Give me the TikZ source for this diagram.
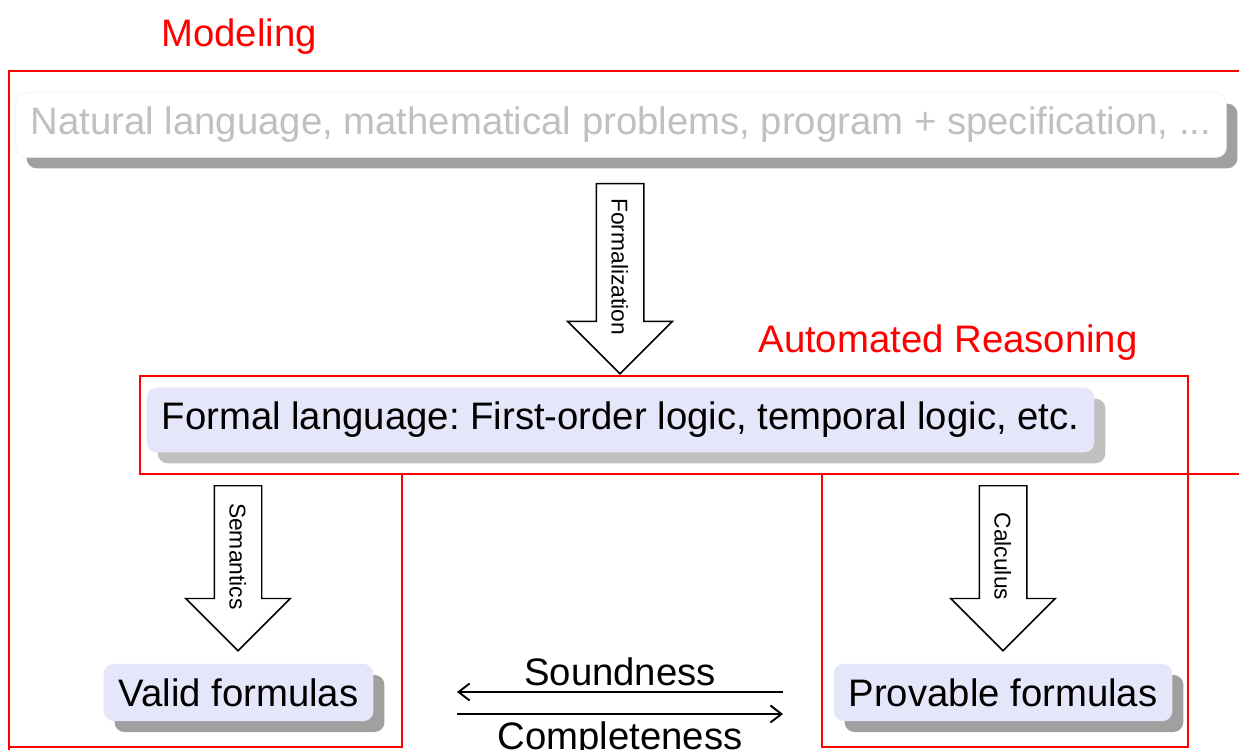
\documentclass[tikz,border=0pt]{standalone}
\usepackage{fontspec}
\setmainfont{Liberation Sans}
\usepackage{tikz}
\usetikzlibrary{arrows.meta,positioning,shapes.arrows,shadows}
\definecolor{regred}   {HTML}{FF0000}
\definecolor{termfill} {HTML}{E6E6FA}
\definecolor{shadedark}{HTML}{A0A0A0}
\definecolor{shadelite}{HTML}{C0C0C0}
\definecolor{fadetext} {HTML}{C0C0C0}
\newcommand{\bigfont}{\fontsize{21.8}{26}\selectfont}
\newcommand{\arrfont}{\fontsize{13}{15}\selectfont}
\frenchspacing
\tikzset{
  termbox/.style    ={fill=termfill, rounded corners=0.2cm,
                      inner xsep=0.3cm, inner ysep=0.29cm, font=\bigfont,
                      drop shadow={shadow xshift=0.22cm, shadow yshift=-0.22cm,
                                   fill=#1, opacity=1}},
  termbox/.default  =shadedark,
  regionbox/.style  ={draw=regred, line width=0.8pt},
  regionlabel/.style={text=regred, font=\bigfont, inner sep=0pt},
  arrowbox/.style   ={single arrow, draw=black, fill=white, line width=0.85pt,
                      rotate=-90, font=\arrfont,
                      text height=0.34cm, text depth=0cm, inner ysep=0.29cm,
                      single arrow head extend=0.57cm},
  relarr/.style     ={-{Straight Barb[length=2.2mm,width=3.4mm]}, line width=1.1pt},
}
\begin{document}
\begin{tikzpicture}[x=1cm,y=1cm]
    \clip (0,0) rectangle (24.78,14.98);

    % Regions
    \draw[regionbox] (0.18,-0.5) rectangle (25.5,13.56);
    \node[regionlabel,anchor=base] (modlabel) at (4.78,14.04) {Modeling};
    \draw[regionbox] (2.80,5.50) rectangle (23.76,7.46);
    \node[regionlabel,anchor=base] (arlabel) at (18.96,7.92) {Automated Reasoning};
    \draw[regionbox] (8.04,5.50) -- (8.04,0.04) -- (0.18,0.04);
    \draw[regionbox] (16.44,5.50) -- (16.44,0.04) -- (23.76,0.04) -- (23.76,5.50) -- (25.5,5.50);

    % Levels
    \node[termbox,fill=white,draw=black!6,text=fadetext] (natlang) at (12.42,12.48)
      {Natural language, mathematical problems, program + specification, ...};
    \node[termbox=shadelite] (formal) at (12.41,6.58)
      {Formal language: First-order logic, temporal logic, etc.};
    \node[termbox] (valid) at (4.77,1.13) {Valid formulas};
    \node[termbox] (provable) at (20.06,1.13) {Provable formulas};

    % Big arrows
    \node[arrowbox,minimum height=3.8cm,anchor=tail] (formalize) at (12.40,11.32) {Formalization};
    \node[arrowbox,minimum height=3.3cm,anchor=tail] (semantics) at (4.76,5.28) {Semantics};
    \node[arrowbox,minimum height=3.3cm,anchor=tail] (calculus) at (20.06,5.28) {Calculus};

    % Soundness and completeness
    \coordinate (sndR) at (15.66,1.14);
    \coordinate (sndL) at (9.14,1.14);
    \coordinate (cmpL) at (9.14,0.70);
    \coordinate (cmpR) at (15.66,0.70);
    \draw[relarr] (sndR) -- (sndL)
      node[midway,anchor=base,yshift=0.14cm,font=\bigfont] {Soundness};
    \draw[relarr] (cmpL) -- (cmpR)
      node[midway,below,inner sep=0pt,yshift=-0.14cm,font=\bigfont] {Completeness};
\end{tikzpicture}
\end{document}
